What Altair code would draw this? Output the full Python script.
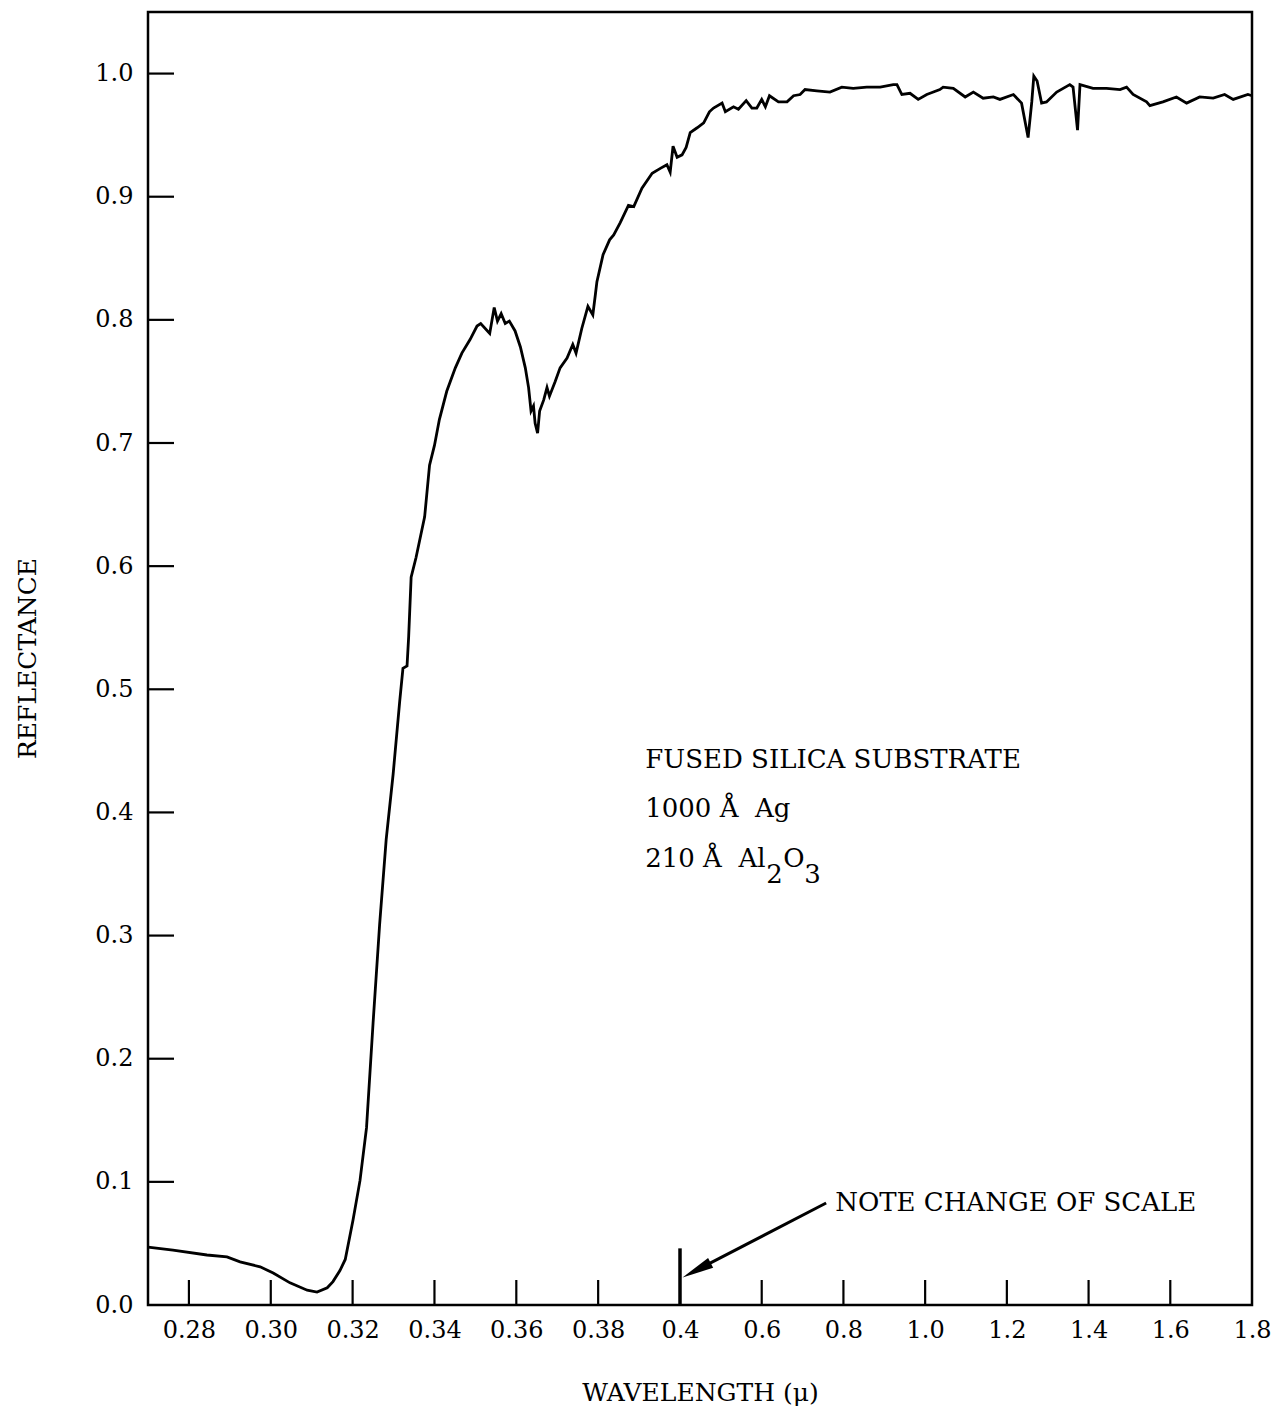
import altair as alt
import pandas as pd

# ---- data (wavelength in microns, reflectance) ----
wavelength_um = [
    0.2700, 0.2761, 0.2844, 0.2893, 0.2925, 0.2974, 0.3006, 0.3047, 0.3089, 0.3113,
    0.3138, 0.3152, 0.3169, 0.3182, 0.3201, 0.3218, 0.3234, 0.3250, 0.3266, 0.3282,
    0.3299, 0.3315, 0.3323, 0.3333, 0.3337, 0.3343, 0.3355, 0.3376, 0.3388, 0.3400,
    0.3412, 0.3430, 0.3451, 0.3467, 0.3487, 0.3504, 0.3513, 0.3535, 0.3546, 0.3554,
    0.3563, 0.3573, 0.3583, 0.3597, 0.3610, 0.3622, 0.3630, 0.3636, 0.3642, 0.3646,
    0.3652, 0.3657, 0.3667, 0.3675, 0.3681, 0.3695, 0.3707, 0.3724, 0.3738, 0.3746,
    0.3760, 0.3775, 0.3787, 0.3793, 0.3797, 0.3812, 0.3828, 0.3838, 0.3854, 0.3874,
    0.3887, 0.3907, 0.3932, 0.3952, 0.3968, 0.3976, 0.3983, 0.3993,
    0.405, 0.415, 0.425, 0.442, 0.458, 0.472, 0.482, 0.503, 0.511, 0.531,
    0.543, 0.562, 0.576, 0.588, 0.600, 0.609, 0.619, 0.641, 0.662, 0.678,
    0.694, 0.706, 0.735, 0.767, 0.796, 0.824, 0.857, 0.890, 0.922, 0.931,
    0.943, 0.963, 0.983, 1.004, 1.012, 1.036, 1.044, 1.069, 1.098, 1.118,
    1.142, 1.167, 1.183, 1.216, 1.236, 1.252, 1.261, 1.266, 1.274, 1.285,
    1.297, 1.322, 1.354, 1.362, 1.373, 1.379, 1.411, 1.444, 1.477, 1.493,
    1.509, 1.542, 1.550, 1.582, 1.615, 1.640, 1.672, 1.705, 1.733, 1.754,
    1.790, 1.800,
]
reflectance = [
    0.047, 0.0446, 0.0406, 0.039, 0.035, 0.031, 0.026, 0.018, 0.012, 0.0105,
    0.014, 0.019, 0.028, 0.037, 0.069, 0.101, 0.144, 0.229, 0.309, 0.378,
    0.431, 0.490, 0.517, 0.519, 0.543, 0.591, 0.607, 0.640, 0.682, 0.698,
    0.719, 0.742, 0.761, 0.773, 0.784, 0.795, 0.797, 0.789, 0.810, 0.799,
    0.805, 0.797, 0.799, 0.791, 0.778, 0.761, 0.745, 0.726, 0.730, 0.716,
    0.708, 0.726, 0.735, 0.745, 0.738, 0.750, 0.761, 0.769, 0.780, 0.773,
    0.793, 0.811, 0.804, 0.820, 0.831, 0.853, 0.865, 0.869, 0.879, 0.893,
    0.892, 0.907, 0.919, 0.923, 0.926, 0.920, 0.941, 0.932,
    0.934, 0.940, 0.952, 0.956, 0.960, 0.969, 0.972, 0.976, 0.969, 0.973,
    0.971, 0.978, 0.972, 0.972, 0.979, 0.973, 0.982, 0.977, 0.977, 0.982,
    0.983, 0.987, 0.986, 0.985, 0.989, 0.988, 0.989, 0.989, 0.991, 0.991,
    0.983, 0.984, 0.979, 0.983, 0.984, 0.987, 0.989, 0.988, 0.981, 0.985,
    0.980, 0.981, 0.979, 0.983, 0.976, 0.948, 0.977, 0.998, 0.994, 0.976,
    0.977, 0.985, 0.991, 0.989, 0.954, 0.991, 0.988, 0.988, 0.987, 0.989,
    0.983, 0.977, 0.974, 0.977, 0.981, 0.976, 0.981, 0.980, 0.983, 0.979,
    0.983, 0.982,
]

x_label_values = [0.28, 0.30, 0.32, 0.34, 0.36, 0.38, 0.4, 0.6, 0.8, 1.0, 1.2, 1.4, 1.6, 1.8]
x_tick_marks = [0.28, 0.30, 0.32, 0.34, 0.36, 0.38, 0.6, 0.8, 1.0, 1.2, 1.4, 1.6]
y_label_values = [0.0, 0.1, 0.2, 0.3, 0.4, 0.5, 0.6, 0.7, 0.8, 0.9, 1.0]
y_tick_marks = [0.1, 0.2, 0.3, 0.4, 0.5, 0.6, 0.7, 0.8, 0.9, 1.0]
scale_break = 0.4

FONT = "DejaVu Serif"
W, H = 1104, 1293
NB = "\u00a0"

curve = pd.DataFrame({"w": wavelength_um, "r": reflectance,
                      "i": list(range(len(wavelength_um)))})

# piecewise (broken) wavelength scale: 0.27-0.4 stretched, 0.4-1.8 compressed
xscale = alt.Scale(domain=[0.27, scale_break, 1.8], range=[0, 532, W], nice=False, zero=False)
yscale = alt.Scale(domain=[0, 1.05], nice=False, zero=False)

x_axis = alt.Axis(
    values=x_label_values,
    labelExpr="datum.value < 0.395 ? format(datum.value, '.2f') : format(datum.value, '.1f')",
    title="WAVELENGTH (μ)", ticks=False, tickSize=0, domain=False, grid=False,
    labelFont=FONT, labelFontSize=24, labelColor="black",
    labelPadding=13, labelOverlap=False, labelFlush=False, labelBound=False,
    titleFont=FONT, titleFontSize=25, titleFontWeight="normal", titleColor="black",
    titleX=552, titleY=87, titleBaseline="middle", titleAlign="center",
)
y_axis = alt.Axis(
    values=y_label_values, format=".1f",
    title="REFLECTANCE", ticks=False, tickSize=0, domain=False, grid=False,
    labelFont=FONT, labelFontSize=24, labelColor="black",
    labelPadding=15, labelOverlap=False, labelFlush=False, labelBound=False,
    titleFont=FONT, titleFontSize=25, titleFontWeight="normal", titleColor="black",
    titleX=-121, titleY=646, titleAngle=270, titleAlign="center", titleBaseline="middle",
)


def X(field):
    return alt.X(field, type="quantitative", scale=xscale, axis=x_axis)


def Y(field):
    return alt.Y(field, type="quantitative", scale=yscale, axis=y_axis)


line = alt.Chart(curve).mark_line(color="black", strokeWidth=2.8).encode(
    x=X("w"), y=Y("r"), order="i:Q"
)

xt = alt.Chart(pd.DataFrame({"v": x_tick_marks})).mark_rule(color="black", strokeWidth=2.2).encode(
    x=X("v"), y=alt.value(H), y2=alt.value(H - 25)
)
yt = alt.Chart(pd.DataFrame({"v": y_tick_marks})).mark_rule(color="black", strokeWidth=2.2).encode(
    y=Y("v"), x=alt.value(0), x2=alt.value(26)
)

break_df = pd.DataFrame({"v": [scale_break], "r0": [0.0], "r1": [0.046]})
brk = alt.Chart(break_df).mark_rule(color="black", strokeWidth=3.5).encode(
    x=X("v"), y=Y("r0"), y2="r1"
)

arrow_df = pd.DataFrame({"x0": [0.7577], "y0": [0.0828], "x1": [0.4406], "y1": [0.0283]})
arrow_line = alt.Chart(arrow_df).mark_rule(color="black", strokeWidth=3).encode(
    x=X("x0"), y=Y("y0"), x2="x1", y2="y1"
)
arrow_head = alt.Chart(arrow_df).mark_point(
    shape="M0,-1L0.35,1L-0.35,1Z", filled=True, color="black", opacity=1,
    size=1000, angle=242.6
).encode(x=X("x1"), y=Y("y1"))


def label(text, w, r, dx=0, size=26):
    df = pd.DataFrame({"t": [text], "w": [w], "r": [r]})
    return alt.Chart(df).mark_text(
        font=FONT, fontSize=size, color="black", align="left",
        baseline="alphabetic", dx=dx
    ).encode(x=X("w"), y=Y("r"), text="t:N")


ann_x = 0.3915
texts = [
    label("FUSED SILICA SUBSTRATE", ann_x, 0.436),
    label("1000 Å" + NB + NB + "Ag", ann_x, 0.396),
    label("210 Å" + NB + NB + "Al", ann_x, 0.356),
    label("2", ann_x, 0.343, dx=121),
    label("O", ann_x, 0.356, dx=138),
    label("3", ann_x, 0.343, dx=159),
    label("NOTE CHANGE OF SCALE", 0.7797, 0.0763),
]

chart = alt.layer(line, xt, yt, brk, arrow_line, arrow_head, *texts).properties(
    width=W, height=H,
    background="white",
    autosize=alt.AutoSizeParams(type="none"),
    padding={"left": 148, "top": 12, "right": 25, "bottom": 107},
).configure_view(stroke="black", strokeWidth=2.5)

chart.save("out.html", embed_options={"renderer": "svg", "actions": False})
